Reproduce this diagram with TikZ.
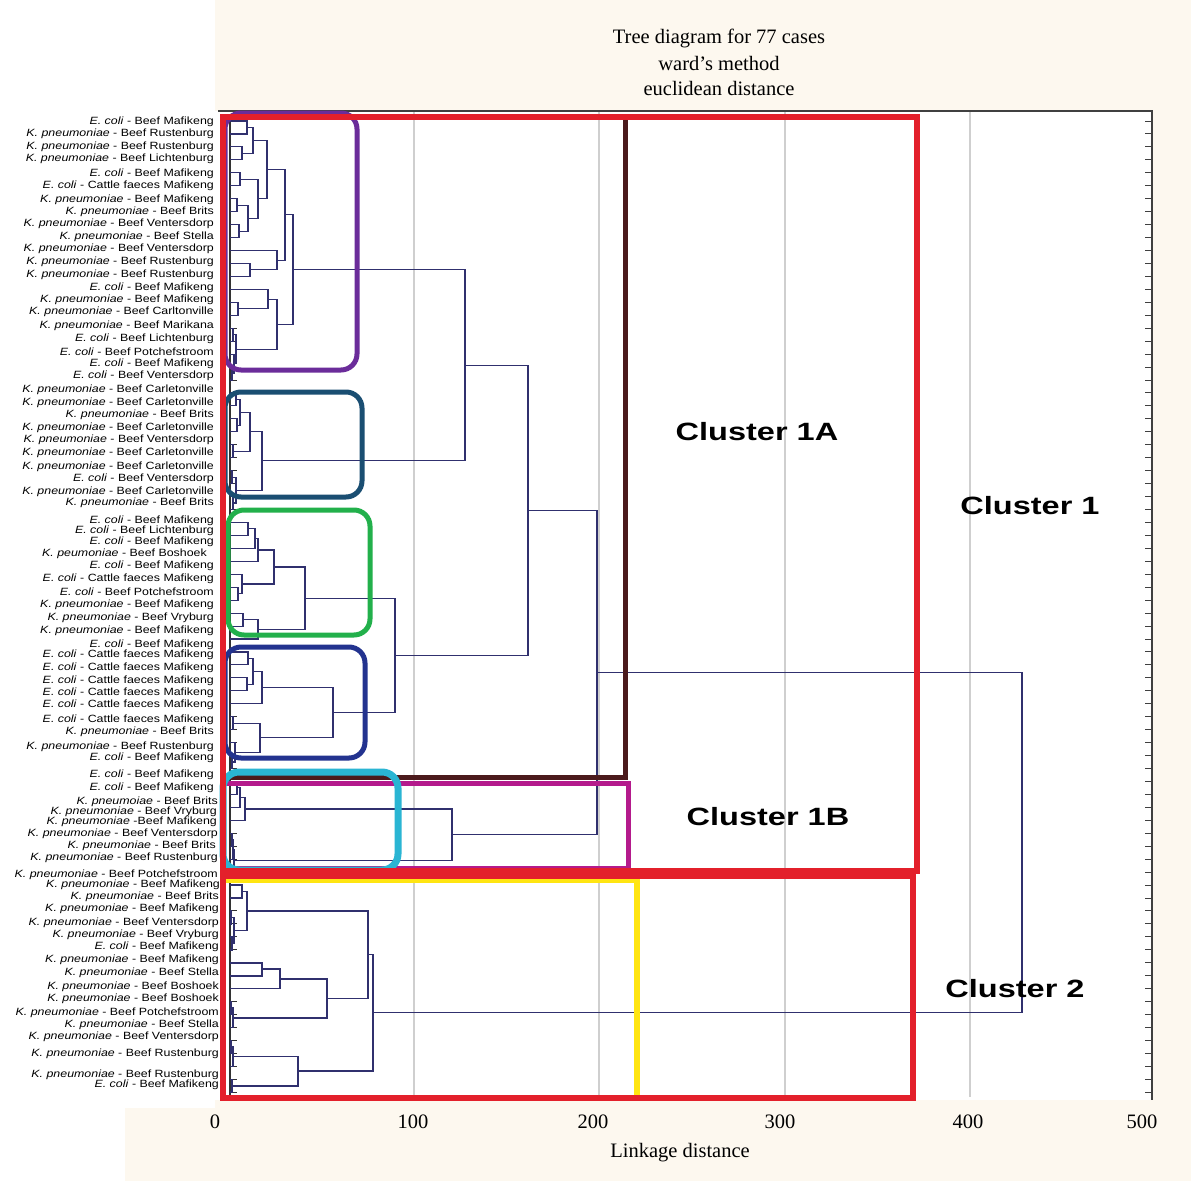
\documentclass[tikz,border=0pt]{standalone}
\usepackage{fontspec}
\usetikzlibrary{calc}
\newfontfamily\lsans{Liberation Sans}
\newfontfamily\lserif{Liberation Serif}
\definecolor{bgb}{HTML}{FDF8EF}
\definecolor{treec}{HTML}{30306E}
\definecolor{redb}{HTML}{E3202B}
\definecolor{brownb}{HTML}{4B1A1C}
\definecolor{magb}{HTML}{B41A8C}
\definecolor{purpb}{HTML}{6B2C9A}
\definecolor{tealb}{HTML}{1A4E72}
\definecolor{greenb}{HTML}{22B04B}
\definecolor{blueb}{HTML}{23338F}
\definecolor{cyanb}{HTML}{2AB5D3}
\definecolor{yelb}{HTML}{FFE512}
\definecolor{gridc}{HTML}{CFCFCF}
\newcommand\Ec{\textit{E. coli}}
\newcommand\Kp{\textit{K. pneumoniae}}
\newcommand\lab[4]{\node[lbl] (lab#1) at (#2,#3) {\scalebox{1.18}[1]{#4}};}
\newcommand\mrg[4]{\path let \p1=($(#2)!0.5!(#3)$) in coordinate (#1) at (#4pt,\y1);
  \draw[dl] (#2) -- (#1 |- #2) -- (#1 |- #3) -- (#3);}
\begin{document}
\begin{tikzpicture}[x=1pt,y=-1pt,
  lbl/.style={anchor=east,inner sep=0pt,font=\lsans\fontsize{10.5}{11}\selectfont},
  dl/.style={draw=treec,line width=1.1pt},
  tk/.style={draw=black!80,line width=1pt},
  clab/.style={font=\lsans\bfseries\fontsize{25}{28}\selectfont,inner sep=0pt},
  serif/.style={font=\lserif\fontsize{20.5}{23}\selectfont,inner sep=0pt},
  rbox/.style={draw=redb,line width=6pt},
  cbox/.style={line width=5pt,rounded corners=16pt}]
\useasboundingbox (0,0) rectangle (1191,1181);
% backgrounds
\fill[bgb] (0,0) rectangle (1191,1181);
\fill[white] (0,0) rectangle (125,1181);
\fill[white] (0,0) rectangle (215,1108);
\fill[white] (215,111) rectangle (1152,1100);
% grid
\foreach \gx in {414,599,785,970} \draw[gridc,line width=1.2pt] (\gx,112) -- (\gx,1097);
% frame
\draw[black!75,line width=1.2pt] (218,111) -- (1152,111) -- (1152,1100);
% leaves
\foreach \i in {1,...,76} {
  \coordinate (L\i) at (230,{121+12.95*(\i-1)});
  \draw[tk] (L\i) -- ++(7,0);
  \draw[black!75,line width=1pt] (1152,{121+12.95*(\i-1)}) -- ++(-7,0);
}
\draw[black!80,line width=1.2pt] (230,114) -- (230,1098);
% ---- tree: cluster purple
\mrg{a1}{L1}{L2}{247}
\mrg{a2}{L3}{L4}{242}
\mrg{a3}{a1}{a2}{253}
\mrg{a4}{L5}{L6}{240}
\mrg{a5}{L7}{L8}{237}
\mrg{a6}{L9}{L10}{239}
\mrg{a7}{a5}{a6}{248}
\mrg{a8}{a4}{a7}{258}
\mrg{a9}{a3}{a8}{267}
\mrg{a10a}{L12}{L13}{250}
\mrg{a10}{L11}{a10a}{277}
\mrg{a11}{a9}{a10}{285}
\mrg{b1}{L15}{L16}{238}
\mrg{b2}{L14}{b1}{268}
\mrg{b3a}{L17}{L18}{233}
\mrg{b3b}{L20}{L21}{232}
\mrg{b3c}{L19}{b3b}{234}
\mrg{b3}{b3a}{b3c}{236}
\mrg{b4}{b2}{b3}{277}
\mrg{a12}{a11}{b4}{293}
% teal
\mrg{c1}{L22}{L23}{236}
\mrg{c2}{L24}{L25}{237}
\mrg{c3}{c1}{c2}{240}
\mrg{c4}{L26}{L27}{233}
\mrg{c5}{c3}{c4}{250}
\mrg{c6a}{L28}{L29}{232}
\mrg{c6b}{L30}{L31}{233}
\mrg{c6}{c6a}{c6b}{236}
\mrg{c7}{c5}{c6}{262}
\mrg{d1}{a12}{c7}{465}
% green
\mrg{e1}{L32}{L33}{248}
\mrg{e2}{e1}{L34}{255}
\mrg{e3}{e2}{L35}{258}
\mrg{e4}{L37}{L38}{238}
\mrg{e5}{L36}{e4}{242}
\mrg{e6}{e3}{e5}{274}
\mrg{e7}{L39}{L40}{243}
\mrg{e8}{e7}{L41}{258}
\mrg{e9}{e6}{e8}{305}
% blue
\mrg{f1}{L42}{L43}{248}
\mrg{f2}{L44}{L45}{247}
\mrg{f3}{f1}{f2}{253}
\mrg{f4}{f3}{L46}{262}
\mrg{f5b}{L47}{L48}{233}
\mrg{f5c}{L50}{L51}{232}
\mrg{f5a}{L49}{f5c}{235}
\mrg{f5}{f5b}{f5a}{260}
\mrg{f6}{f4}{f5}{333}
\mrg{g1}{e9}{f6}{395}
\mrg{g2}{d1}{g1}{528}
% cluster 1B
\mrg{h1}{L52}{L53}{237}
\mrg{h2}{h1}{L54}{240}
\mrg{h3}{h2}{L55}{245}
\mrg{h4}{L56}{L57}{232}
\mrg{h5}{h4}{L58}{233}
\mrg{h6}{h5}{L59}{234}
\mrg{h7}{h3}{h6}{452}
\mrg{r1}{g2}{h7}{597}
% cluster 2
\begin{scope}[dl/.append style={line width=1.6pt}]
\mrg{k1}{L60}{L61}{242}
\mrg{k2a}{L62}{L63}{231}
\mrg{k2c}{L64}{L65}{232}
\mrg{k2b}{k2a}{k2c}{234}
\mrg{k2}{k1}{k2b}{247}
\mrg{m1}{L66}{L67}{262}
\mrg{m2}{m1}{L68}{280}
\mrg{m4a}{L69}{L70}{231}
\mrg{m4}{m4a}{L71}{233}
\mrg{m3}{m2}{m4}{327}
\mrg{n1}{k2}{m3}{368}
\mrg{pa1}{L72}{L73}{231}
\mrg{pA}{pa1}{L74}{233}
\mrg{pB}{L75}{L76}{232}
\mrg{p1}{pA}{pB}{298}
\mrg{n2}{n1}{p1}{373}
\end{scope}
\mrg{root}{r1}{n2}{1022}
% ---- coloured boxes
\draw[brownb,line width=5pt] (223,117) rectangle (625,777);
\draw[magb,line width=5pt] (223,783) rectangle (628,868);
\draw[yelb,line width=6pt] (226,880) -- (637,880) -- (637,1097);
\draw[cbox,purpb] (225,113) rectangle (357,370);
\draw[cbox,tealb] (225,392) rectangle (362,497);
\draw[cbox,greenb] (228,510) rectangle (370,635);
\draw[cbox,blueb] (225,647) rectangle (365,758);
\draw[cbox,cyanb,line width=7pt] (223,772) rectangle (398,870);
\draw[rbox] (223,117) rectangle (917,871);
\draw[rbox] (223,876) rectangle (913,1098);
% ---- cluster labels
\node[clab] (c1a) at (757,432) {\scalebox{1.3}[1]{Cluster 1A}};
\node[clab] (c1b) at (768,817) {\scalebox{1.3}[1]{Cluster 1B}};
\node[clab] (c1) at (1030,506) {\scalebox{1.3}[1]{Cluster 1}};
\node[clab] (c2) at (1015,989) {\scalebox{1.3}[1]{Cluster 2}};
% ---- titles and axis
\node[serif] (t1) at (719,38) {Tree diagram for 77 cases};
\node[serif] (t2) at (719,63) {ward’s method};
\node[serif] (t3) at (719,88) {euclidean distance};
\node[serif] (x0) at (215,1122) {0};
\node[serif] (x1) at (413,1122) {100};
\node[serif] (x2) at (593,1122) {200};
\node[serif] (x3) at (780,1122) {300};
\node[serif] (x4) at (968,1122) {400};
\node[serif] (x5) at (1142,1122) {500};
\node[serif] (xl) at (680,1153) {Linkage distance};
% ---- leaf labels
\lab{1}{214}{122}{\Ec{} - Beef Mafikeng}
\lab{2}{214}{134}{\Kp{} - Beef Rustenburg}
\lab{3}{214}{147}{\Kp{} - Beef Rustenburg}
\lab{4}{214}{159}{\Kp{} - Beef Lichtenburg}
\lab{5}{214}{174}{\Ec{} - Beef Mafikeng}
\lab{6}{214}{186}{\Ec{} - Cattle faeces Mafikeng}
\lab{7}{214}{200}{\Kp{} - Beef Mafikeng}
\lab{8}{214}{212}{\Kp{} - Beef Brits}
\lab{9}{214}{224}{\Kp{} - Beef Ventersdorp}
\lab{10}{214}{237}{\Kp{} - Beef Stella}
\lab{11}{214}{249}{\Kp{} - Beef Ventersdorp}
\lab{12}{214}{262}{\Kp{} - Beef Rustenburg}
\lab{13}{214}{275}{\Kp{} - Beef Rustenburg}
\lab{14}{214}{288}{\Ec{} - Beef Mafikeng}
\lab{15}{214}{300}{\Kp{} - Beef Mafikeng}
\lab{16}{214}{312}{\Kp{} - Beef Carltonville}
\lab{17}{214}{326}{\Kp{} - Beef Marikana}
\lab{18}{214}{339}{\Ec{} - Beef Lichtenburg}
\lab{19}{214}{352}{\Ec{} - Beef Potchefstroom}
\lab{20}{214}{364}{\Ec{} - Beef Mafikeng}
\lab{21}{214}{376}{\Ec{} - Beef Ventersdorp}
\lab{22}{214}{390}{\Kp{} - Beef Carletonville}
\lab{23}{214}{403}{\Kp{} - Beef Carletonville}
\lab{24}{214}{415}{\Kp{} - Beef Brits}
\lab{25}{214}{428}{\Kp{} - Beef Carletonville}
\lab{26}{214}{440}{\Kp{} - Beef Ventersdorp}
\lab{27}{214}{453}{\Kp{} - Beef Carletonville}
\lab{28}{214}{467}{\Kp{} - Beef Carletonville}
\lab{29}{214}{479}{\Ec{} - Beef Ventersdorp}
\lab{30}{214}{492}{\Kp{} - Beef Carletonville}
\lab{31}{214}{503}{\Kp{} - Beef Brits}
\lab{32}{214}{521}{\Ec{} - Beef Mafikeng}
\lab{33}{214}{531}{\Ec{} - Beef Lichtenburg}
\lab{34}{214}{542}{\Ec{} - Beef Mafikeng}
\lab{35}{207}{554}{\textit{K. peumoniae} - Beef Boshoek}
\lab{36}{214}{566}{\Ec{} - Beef Mafikeng}
\lab{37}{214}{579}{\Ec{} - Cattle faeces Mafikeng}
\lab{38}{214}{592}{\Ec{} - Beef Potchefstroom}
\lab{39}{214}{605}{\Kp{} - Beef Mafikeng}
\lab{40}{214}{618}{\Kp{} - Beef Vryburg}
\lab{41}{214}{631}{\Kp{} - Beef Mafikeng}
\lab{42}{214}{645}{\Ec{} - Beef Mafikeng}
\lab{43}{214}{655}{\Ec{} - Cattle faeces Mafikeng}
\lab{44}{214}{668}{\Ec{} - Cattle faeces Mafikeng}
\lab{45}{214}{681}{\Ec{} - Cattle faeces Mafikeng}
\lab{46}{214}{693}{\Ec{} - Cattle faeces Mafikeng}
\lab{47}{214}{705}{\Ec{} - Cattle faeces Mafikeng}
\lab{48}{214}{720}{\Ec{} - Cattle faeces Mafikeng}
\lab{49}{214}{732}{\Kp{} - Beef Brits}
\lab{50}{214}{747}{\Kp{} - Beef Rustenburg}
\lab{51}{214}{758}{\Ec{} - Beef Mafikeng}
\lab{52}{214}{775}{\Ec{} - Beef Mafikeng}
\lab{53}{214}{788}{\Ec{} - Beef Mafikeng}
\lab{54}{218}{802}{\textit{K. pneumoiae} - Beef Brits}
\lab{55}{217}{812}{\Kp{} - Beef Vryburg}
\lab{56}{217}{822}{\Kp{} -Beef Mafikeng}
\lab{57}{218}{834}{\Kp{} - Beef Ventersdorp}
\lab{58}{216}{846}{\Kp{} - Beef Brits}
\lab{59}{218}{858}{\Kp{} - Beef Rustenburg}
\lab{60}{218}{875}{\Kp{} - Beef Potchefstroom}
\lab{61}{220}{885}{\Kp{} - Beef Mafikeng}
\lab{62}{219}{897}{\Kp{} - Beef Brits}
\lab{63}{219}{909}{\Kp{} - Beef Mafikeng}
\lab{64}{219}{923}{\Kp{} - Beef Ventersdorp}
\lab{65}{219}{935}{\Kp{} - Beef Vryburg}
\lab{66}{219}{947}{\Ec{} - Beef Mafikeng}
\lab{67}{219}{960}{\Kp{} - Beef Mafikeng}
\lab{68}{219}{973}{\Kp{} - Beef Stella}
\lab{69}{219}{987}{\Kp{} - Beef Boshoek}
\lab{70}{219}{999}{\Kp{} - Beef Boshoek}
\lab{71}{219}{1013}{\Kp{} - Beef Potchefstroom}
\lab{72}{219}{1025}{\Kp{} - Beef Stella}
\lab{73}{219}{1037}{\Kp{} - Beef Ventersdorp}
\lab{74}{219}{1054}{\Kp{} - Beef Rustenburg}
\lab{75}{219}{1075}{\Kp{} - Beef Rustenburg}
\lab{76}{219}{1085}{\Ec{} - Beef Mafikeng}
\end{tikzpicture}
\end{document}
